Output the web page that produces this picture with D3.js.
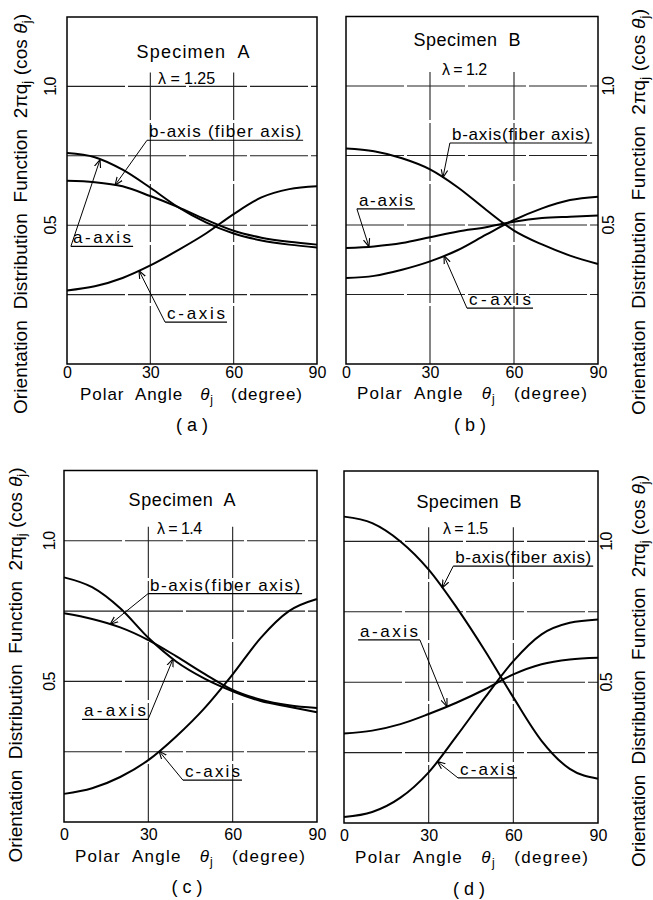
<!DOCTYPE html>
<html>
<head>
<meta charset="utf-8">
<script src="https://cdn.jsdelivr.net/npm/d3@7"></script>
<style>
  body { margin: 0; background: #fff; }
  svg { display: block; font-family: "Liberation Sans", Arial, sans-serif; }
</style>
</head>
<body>
<script>
// DATA

// Polar angle (degree) sampled every 10 degrees
const theta = [0, 10, 20, 30, 40, 50, 60, 70, 80, 90];
const xTicks = [0, 30, 60, 90];
const yTicks = [0.5, 1.0];
const yTickLabels = ['0.5', '1.0'];
const gridY = [0.25, 0.5, 0.75, 1.0];
const gridX = [30, 60];

// (a) Specimen A, lambda = 1.25
const aAxisA125 = [0.76, 0.745, 0.70, 0.635, 0.565, 0.51, 0.47, 0.445, 0.43, 0.42];
const bAxisA125 = [0.66, 0.655, 0.64, 0.605, 0.565, 0.52, 0.48, 0.455, 0.44, 0.43];
const cAxisA125 = [0.265, 0.28, 0.31, 0.355, 0.41, 0.47, 0.54, 0.60, 0.63, 0.64];

// (b) Specimen B, lambda = 1.2
const aAxisB12 = [0.417, 0.423, 0.435, 0.456, 0.477, 0.492, 0.512, 0.525, 0.53, 0.534];
const bAxisB12 = [0.775, 0.765, 0.74, 0.70, 0.635, 0.555, 0.48, 0.43, 0.39, 0.36];
const cAxisB12 = [0.309, 0.317, 0.339, 0.369, 0.41, 0.465, 0.518, 0.56, 0.59, 0.602];

// (c) Specimen A, lambda = 1.4
const aAxisA14 = [0.87, 0.835, 0.76, 0.655, 0.57, 0.51, 0.465, 0.43, 0.41, 0.39];
const bAxisA14 = [0.742, 0.722, 0.692, 0.647, 0.589, 0.527, 0.47, 0.435, 0.415, 0.405];
const cAxisA14 = [0.10, 0.12, 0.16, 0.22, 0.305, 0.405, 0.525, 0.655, 0.75, 0.793];

// (d) Specimen B, lambda = 1.5
const aAxisB15 = [0.318, 0.328, 0.351, 0.387, 0.428, 0.475, 0.528, 0.564, 0.581, 0.587];
const bAxisB15 = [1.088, 1.065, 1.0, 0.9, 0.764, 0.611, 0.446, 0.292, 0.192, 0.157];
const cAxisB15 = [0.021, 0.039, 0.09, 0.18, 0.31, 0.446, 0.575, 0.67, 0.711, 0.723];

// Panel table built from the arrays above (layout lives here, values above)
const panels = [
  { cap: '( a )', specimen: 'Specimen  A', lambda: 'λ = 1.25',
    series: { a: aAxisA125, b: bAxisA125, c: cAxisA125 },
    left: 67, right: 317, top: 17, bottom: 364, side: 'left', tickOff: -11, xPad: 3,
    yTitleX: 27, yTitleCY: 214, yTitleLen: 400, xTitleX: 80, xTitleY: 400, xTitleLen: 222,
    capX: 192, capY: 431,
    spec: [45.4, 1.104, 113], lam: [32.8, 1.01, 57],
    notes: [
      { text: 'b-axis (fiber axis)', key: 'b', from: 28.8, to: 85.0, v: 0.806, tip: 17.3, end: 'start' },
      { text: 'a-axis', key: 'a', from: 1.4, to: 23.8, v: 0.424, tip: 11.9, end: 'start' },
      { text: 'c-axis', key: 'c', from: 35.3, to: 57.6, v: 0.151, tip: 25.9, end: 'start' }
    ] },
  { cap: '( b )', specimen: 'Specimen  B', lambda: 'λ = 1.2',
    series: { a: aAxisB12, b: bAxisB12, c: cAxisB12 },
    left: 346, right: 598, top: 16.5, bottom: 364, side: 'right', tickOff: 16, xPad: 3,
    yTitleX: 645, yTitleCY: 212, yTitleLen: 406, xTitleX: 357, xTitleY: 399, xTitleLen: 230,
    capX: 470, capY: 431,
    spec: [43.2, 1.144, 107], lam: [34.3, 1.04, 45],
    notes: [
      { text: 'b-axis(fiber axis)', key: 'b', from: 37.1, to: 87.9, v: 0.795, tip: 34.6, end: 'start' },
      { text: 'a-axis', key: 'a', from: 3.9, to: 24.6, v: 0.558, tip: 8.2, end: 'start' },
      { text: 'c-axis', key: 'c', from: 43.2, to: 66.8, v: 0.201, tip: 35, end: 'start' }
    ] },
  { cap: '( c )', specimen: 'Specimen  A', lambda: 'λ = 1.4',
    series: { a: aAxisA14, b: bAxisA14, c: cAxisA14 },
    left: 64, right: 317, top: 470.5, bottom: 822, side: 'left', tickOff: -9, xPad: 7,
    yTitleX: 22, yTitleCY: 665, yTitleLen: 395, xTitleX: 75, xTitleY: 862, xTitleLen: 230,
    capX: 187, capY: 893,
    spec: [42, 1.124, 107], lam: [33.1, 1.025, 45],
    notes: [
      { text: 'b-axis(fiber axis)', key: 'b', from: 29.9, to: 84.7, v: 0.812, tip: 16.4, end: 'start' },
      { text: 'a-axis', key: 'a', from: 6.4, to: 29.9, v: 0.365, tip: 38.8, end: 'end' },
      { text: 'c-axis', key: 'c', from: 42.3, to: 63.3, v: 0.149, tip: 33.8, end: 'start' }
    ] },
  { cap: '( d )', specimen: 'Specimen  B', lambda: 'λ = 1.5',
    series: { a: aAxisB15, b: bAxisB15, c: cAxisB15 },
    left: 344, right: 598, top: 471, bottom: 823, side: 'right', tickOff: 14, xPad: 7,
    yTitleX: 645, yTitleCY: 671, yTitleLen: 392, xTitleX: 355, xTitleY: 863, xTitleLen: 233,
    capX: 469, capY: 895,
    spec: [44.3, 1.117, 105], lam: [35.1, 1.028, 45],
    notes: [
      { text: 'b-axis(fiber axis)', key: 'b', from: 38.7, to: 88.3, v: 0.912, tip: 34.8, end: 'start' },
      { text: 'a-axis', key: 'a', from: 5.0, to: 26.9, v: 0.650, tip: 36.5, end: 'end' },
      { text: 'c-axis', key: 'c', from: 40.4, to: 61.3, v: 0.16, tip: 33, end: 'start' }
    ] }
];

// SVG
const svg = d3.select('body')
  .append('svg')
  .attr('width', 653)
  .attr('height', 900);

// Open arrow head for the label pointers
svg.append('defs')
  .append('marker')
  .attr('id', 'arrow')
  .attr('viewBox', '0 0 10 10')
  .attr('refX', 10)
  .attr('refY', 5)
  .attr('markerWidth', 8)
  .attr('markerHeight', 8)
  .attr('markerUnits', 'userSpaceOnUse')
  .attr('orient', 'auto')
  .append('path')
  .attr('d', 'M0,1 L10,5 L0,9')
  .attr('fill', 'none')
  .attr('stroke', '#000')
  .attr('stroke-width', 1.4);

function drawPanel(p) {
  const x = d3.scaleLinear().domain([0, 90]).range([p.left, p.right]);
  const y = d3.scaleLinear().domain([0, 1.25]).range([p.bottom, p.top]);
  const g = svg.append('g');

  // Grid (long dashes with small breaks, like the inked original)
  g.selectAll('line.gy').data(gridY).join('line')
    .attr('class', 'gy')
    .attr('x1', p.left).attr('x2', p.right)
    .attr('y1', d => y(d)).attr('y2', d => y(d))
    .attr('stroke', '#222').attr('stroke-width', 1.1)
    .attr('stroke-dasharray', '58,3');
  g.selectAll('line.gx').data(gridX).join('line')
    .attr('class', 'gx')
    .attr('x1', d => x(d)).attr('x2', d => x(d))
    .attr('y1', p.bottom).attr('y2', y(1.05))
    .attr('stroke', '#222').attr('stroke-width', 1.1)
    .attr('stroke-dasharray', '58,3');

  // Frame
  g.append('rect')
    .attr('x', p.left).attr('y', p.top)
    .attr('width', p.right - p.left).attr('height', p.bottom - p.top)
    .attr('fill', 'none').attr('stroke', '#000').attr('stroke-width', 1.5);

  // X axis
  g.append('g')
    .attr('transform', 'translate(0,' + p.bottom + ')')
    .call(d3.axisBottom(x).tickValues(xTicks).tickSize(0).tickPadding(p.xPad))
    .attr('font-size', 16).attr('font-family', null)
    .call(a => a.select('.domain').remove());

  // Y axis (labels turned like the title)
  const yAxis = p.side === 'left' ? d3.axisLeft(y) : d3.axisRight(y);
  g.append('g')
    .attr('transform', 'translate(' + (p.side === 'left' ? p.left : p.right) + ',0)')
    .call(yAxis.tickValues(yTicks).tickFormat((d, i) => yTickLabels[i]).tickSize(0))
    .attr('font-size', 16).attr('font-family', null)
    .call(a => a.select('.domain').remove())
    .selectAll('text')
    .attr('transform', 'rotate(-90)')
    .attr('x', 0).attr('y', p.tickOff).attr('dy', 0)
    .attr('text-anchor', 'middle')
    .attr('letter-spacing', -1.5);

  // Curves
  const line = d3.line()
    .x((d, i) => x(theta[i]))
    .y(d => y(d))
    .curve(d3.curveMonotoneX);
  ['a', 'b', 'c'].forEach(k => {
    g.append('path')
      .attr('d', line(p.series[k]))
      .attr('fill', 'none').attr('stroke', '#000').attr('stroke-width', 2);
  });

  // Specimen and lambda
  g.append('text')
    .attr('x', x(p.spec[0])).attr('y', y(p.spec[1]))
    .attr('text-anchor', 'middle').attr('font-size', 18)
    .attr('textLength', p.spec[2])
    .style('white-space', 'pre')
    .text(p.specimen);
  g.append('text')
    .attr('x', x(p.lam[0])).attr('y', y(p.lam[1]))
    .attr('font-size', 16)
    .attr('textLength', p.lam[2])
    .text(p.lambda);

  // Curve labels with underline and arrow
  p.notes.forEach(n => {
    const u0 = x(n.from), u1 = x(n.to), uy = y(n.v);
    const onCurve = d3.scaleLinear().domain(theta).range(p.series[n.key]);
    g.append('line')
      .attr('x1', u0).attr('x2', u1).attr('y1', uy).attr('y2', uy)
      .attr('stroke', '#000').attr('stroke-width', 1.2);
    g.append('text')
      .attr('x', (u0 + u1) / 2).attr('y', uy - 3)
      .attr('text-anchor', 'middle').attr('font-size', 17)
      .attr('textLength', u1 - u0 - 4)
      .text(n.text);
    g.append('line')
      .attr('x1', n.end === 'start' ? u0 : u1).attr('y1', uy)
      .attr('x2', x(n.tip)).attr('y2', y(onCurve(n.tip)))
      .attr('stroke', '#000').attr('stroke-width', 1)
      .attr('marker-end', 'url(#arrow)');
  });

  // Y title
  const yt = svg.append('text')
    .attr('transform', 'translate(' + p.yTitleX + ',' + p.yTitleCY + ') rotate(-90)')
    .attr('text-anchor', 'middle').attr('font-size', 19)
    .attr('textLength', p.yTitleLen)
    .style('white-space', 'pre');
  yt.append('tspan').text('Orientation  Distribution  Function  2πq');
  yt.append('tspan').attr('font-size', 13).attr('dy', 4).text('j');
  yt.append('tspan').attr('dy', -4).text(' (cos ');
  yt.append('tspan').attr('font-style', 'italic').text('θ');
  yt.append('tspan').attr('font-size', 13).attr('dy', 4).text('j');
  yt.append('tspan').attr('dy', -4).text(')');

  // X title
  const xt = svg.append('text')
    .attr('x', p.xTitleX).attr('y', p.xTitleY)
    .attr('font-size', 17)
    .attr('textLength', p.xTitleLen)
    .style('white-space', 'pre');
  xt.append('tspan').text('Polar  Angle   ');
  xt.append('tspan').attr('font-style', 'italic').text('θ');
  xt.append('tspan').attr('font-size', 12).attr('dy', 4).text('j');
  xt.append('tspan').attr('dy', -4).text('   (degree)');

  // Caption
  svg.append('text')
    .attr('x', p.capX).attr('y', p.capY)
    .attr('text-anchor', 'middle').attr('font-size', 18)
    .style('white-space', 'pre')
    .text(p.cap);
}

panels.forEach(drawPanel);
</script>
</body>
</html>
